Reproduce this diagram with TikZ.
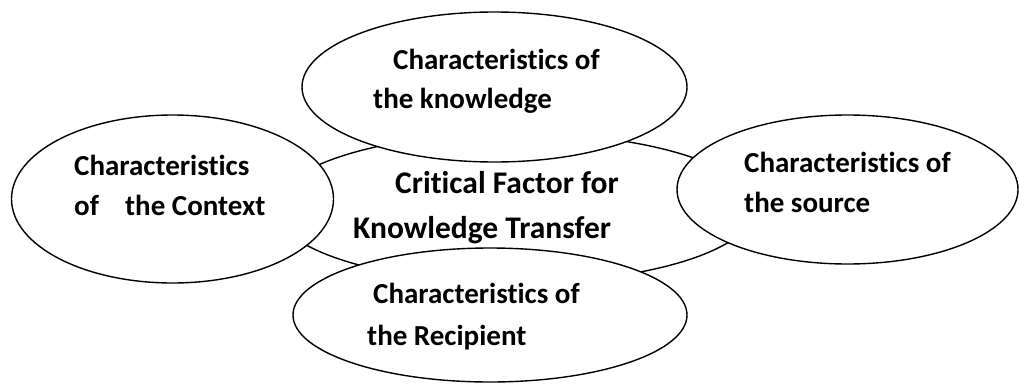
\documentclass[tikz,border=0pt]{standalone}
\usepackage{fontspec}
\setmainfont{Carlito}[RawFeature={-liga}]
\usetikzlibrary{shapes.geometric}
\tikzset{
  oval/.style={ellipse, draw=black, line width=1.4pt, fill=white, inner sep=0pt},
  lbl/.style={anchor=base west, inner sep=0pt, font=\bfseries\fontsize{29}{35}\selectfont},
  clbl/.style={anchor=base west, inner sep=0pt, font=\bfseries\fontsize{31.5}{37}\selectfont}
}
\begin{document}
\begin{tikzpicture}[x=1pt,y=-1pt]
\useasboundingbox (0,0) rectangle (1019,383);
\node[oval, minimum width=480pt, minimum height=150pt] (center) at (515,208) {};
\node[oval, minimum width=385pt, minimum height=150pt] (top) at (494.5,87) {};
\node[oval, minimum width=322pt, minimum height=168pt] (left) at (172.5,199) {};
\node[oval, minimum width=341pt, minimum height=149pt] (right) at (847.5,189.5) {};
\node[oval, minimum width=394pt, minimum height=134pt] (bottom) at (490,315) {};
\node[lbl] (t1) at (393,69) {Characteristics of};
\node[lbl] (t2) at (373,108) {the knowledge};
\node[lbl] (l1) at (74,175) {Characteristics};
\node[lbl] (l2) at (74,215) {of\ \ \ \ the Context};
\node[clbl] (c1) at (395,193) {Critical Factor for};
\node[clbl] (c2) at (353,238) {Knowledge Transfer};
\node[lbl] (r1) at (744,172) {Characteristics of};
\node[lbl] (r2) at (744,212) {the source};
\node[lbl] (b1) at (373,303) {Characteristics of};
\node[lbl] (b2) at (367,345) {the Recipient};
\end{tikzpicture}
\end{document}
